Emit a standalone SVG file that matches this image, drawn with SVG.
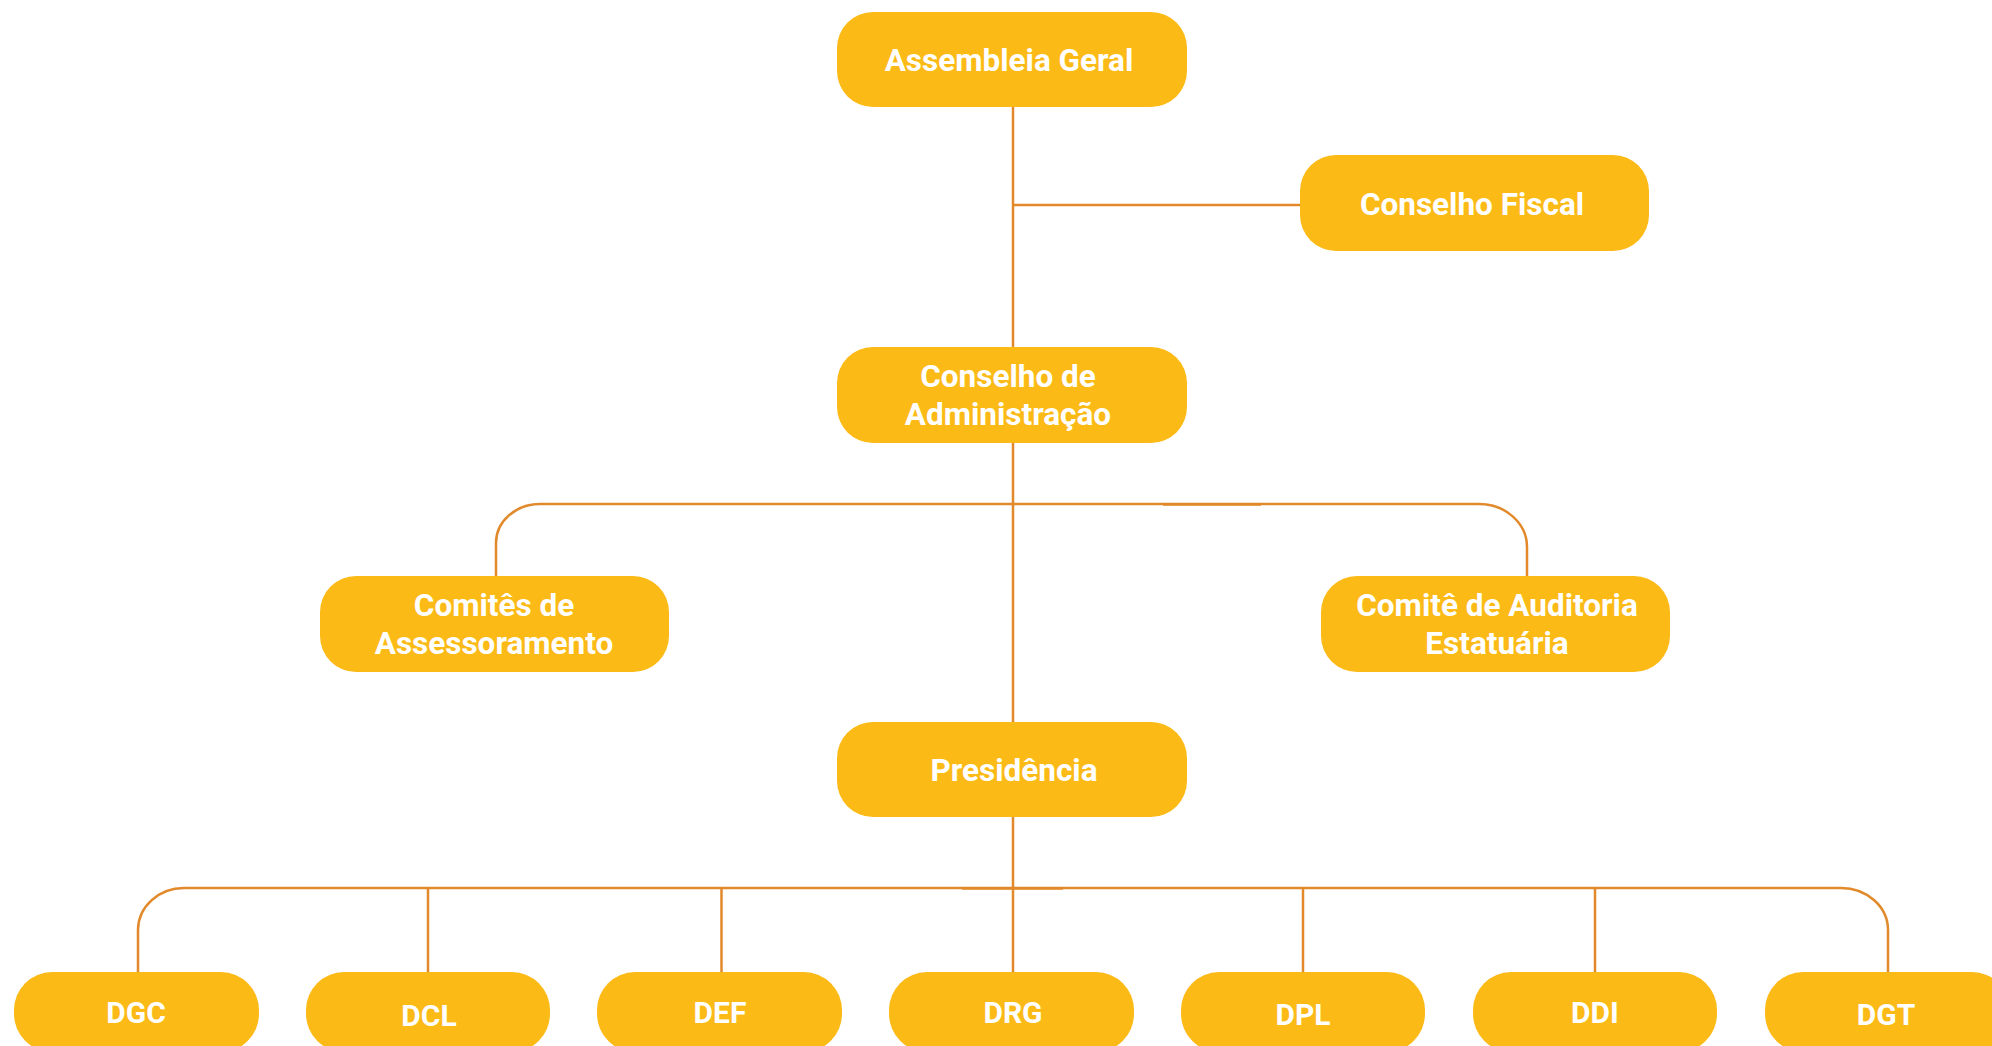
<svg xmlns="http://www.w3.org/2000/svg" width="1992" height="1046" viewBox="0 0 1992 1046">
<style>
.box{fill:#FCBA17}
.lbl{fill:#FFFFFF;font-family:Roboto,"Liberation Sans",Arial,sans-serif;font-weight:700;font-size:31.5px;text-anchor:middle}
.sm{font-size:30px}
.ln{fill:none;stroke:#E1892B;stroke-width:2.5}
</style>
<rect width="1992" height="1046" fill="#FFFFFF"/>
<g id="connectors">
<path class="ln" d="M1013,107 V347"/>
<path class="ln" d="M1013,205 H1300"/>
<path class="ln" d="M1013,443 V722"/>
<path class="ln" d="M496,576 V543 A44,39 0 0 1 540,504 H1479 A48,43 0 0 1 1527,547 V576"/>
<path class="ln" d="M1163,504.5 H1261"/>
<path class="ln" d="M1013,817 V972"/>
<path class="ln" d="M138,972 V930 A46,42 0 0 1 184,888 H1841 A47,42 0 0 1 1888,930 V972"/>
<path class="ln" d="M962,888.5 H1063"/>
<path class="ln" d="M428,888 V972"/>
<path class="ln" d="M721.5,888 V972"/>
<path class="ln" d="M1303,888 V972"/>
<path class="ln" d="M1595,888 V972"/>
</g>
<g id="assembleia">
<rect class="box" x="837" y="12" width="350" height="95" rx="36"/>
<text class="lbl" x="1009" y="71">Assembleia Geral</text>
</g>
<g id="conselho-fiscal">
<rect class="box" x="1300" y="155" width="349" height="96" rx="36"/>
<text class="lbl" x="1472" y="215">Conselho Fiscal</text>
</g>
<g id="conselho-adm">
<rect class="box" x="837" y="347" width="350" height="96" rx="36"/>
<text class="lbl" x="1008" y="387">Conselho de</text>
<text class="lbl" x="1008" y="425">Administração</text>
</g>
<g id="comites">
<rect class="box" x="320" y="576" width="349" height="96" rx="36"/>
<text class="lbl" x="494" y="616">Comitês de</text>
<text class="lbl" x="494" y="654">Assessoramento</text>
</g>
<g id="auditoria">
<rect class="box" x="1321" y="576" width="349" height="96" rx="36"/>
<text class="lbl" x="1497" y="616">Comitê de Auditoria</text>
<text class="lbl" x="1497" y="654">Estatuária</text>
</g>
<g id="presidencia">
<rect class="box" x="837" y="722" width="350" height="95" rx="36"/>
<text class="lbl" x="1014" y="781">Presidência</text>
</g>
<g id="dgc">
<rect class="box" x="14" y="972" width="245" height="80" rx="38"/>
<text class="lbl sm" x="136" y="1023">DGC</text>
</g>
<g id="dcl">
<rect class="box" x="306" y="972" width="244" height="80" rx="38"/>
<text class="lbl sm" x="429" y="1026">DCL</text>
</g>
<g id="def">
<rect class="box" x="597" y="972" width="245" height="80" rx="38"/>
<text class="lbl sm" x="720" y="1023">DEF</text>
</g>
<g id="drg">
<rect class="box" x="889" y="972" width="245" height="80" rx="38"/>
<text class="lbl sm" x="1013" y="1023">DRG</text>
</g>
<g id="dpl">
<rect class="box" x="1181" y="972" width="244" height="80" rx="38"/>
<text class="lbl sm" x="1303" y="1025">DPL</text>
</g>
<g id="ddi">
<rect class="box" x="1473" y="972" width="244" height="80" rx="38"/>
<text class="lbl sm" x="1595" y="1023">DDI</text>
</g>
<g id="dgt">
<rect class="box" x="1765" y="972" width="245" height="80" rx="38"/>
<text class="lbl sm" x="1886" y="1025">DGT</text>
</g>
</svg>
